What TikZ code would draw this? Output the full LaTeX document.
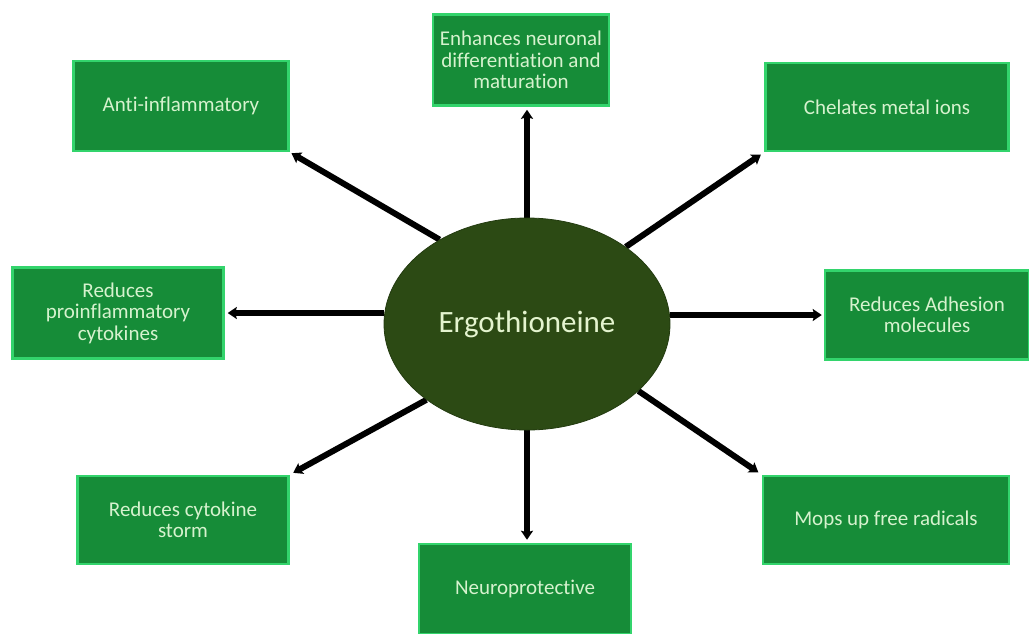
\documentclass[tikz,border=0pt]{standalone}
\usepackage{fontspec}
\setmainfont{Carlito}[Ligatures=NoCommon]
\usetikzlibrary{shapes.geometric,arrows.meta,backgrounds}
\definecolor{boxfill}{HTML}{168C38}
\definecolor{boxline}{HTML}{33D46C}
\definecolor{boxtext}{HTML}{D6F2CE}
\definecolor{ellfill}{HTML}{2C4A14}
\definecolor{elltext}{HTML}{E4F4CF}
\tikzset{
  effect/.style={draw=boxline, line width=2.5pt, fill=boxfill, text=boxtext,
    align=center, inner sep=0pt, font=\fontsize{21}{21.5}\selectfont},
  link/.style={line width=6pt, -{Stealth[length=9pt,width=12pt,inset=1.5pt]}, draw=black},
}
\begin{document}
\begin{tikzpicture}[x=1pt,y=-1pt]
\useasboundingbox (0,0) rectangle (1029,633);
% boxes
\node[effect, minimum width=215pt, minimum height=90pt] (A) at (181,106) {Anti-inflammatory};
\node[effect, minimum width=176pt, minimum height=91pt] (B) at (521,60) {Enhances neuronal\\differentiation and\\maturation};
\node[effect, minimum width=243pt, minimum height=88pt] (C) at (887,107) {Chelates metal ions};
\node[effect, minimum width=211pt, minimum height=91pt] (D) at (118,313) {Reduces\\proinflammatory\\cytokines};
\node[effect, minimum width=204pt, minimum height=89pt] (F) at (927,315) {Reduces Adhesion\\molecules};
\node[effect, minimum width=211pt, minimum height=88pt] (G) at (183,520) {Reduces cytokine\\storm};
\node[effect, minimum width=212pt, minimum height=90pt] (H) at (525,589) {Neuroprotective};
\node[effect, minimum width=246pt, minimum height=88pt] (M) at (886,520) {Mops up free radicals};
% ellipse
\node[ellipse, fill=ellfill, draw=ellfill!80!black, line width=0.8pt,
  minimum width=286pt, minimum height=212pt, inner sep=0pt,
  text=elltext, font=\fontsize{31}{38}\selectfont] (E) at (527,324) {Ergothioneine};
% connectors
\begin{scope}[on background layer]
\draw[link, shorten >=2pt] (E.136) -- (A.south east);
\draw[link, shorten >=3pt] (E.north) -- (E.north |- B.south);
\draw[link, shorten >=4pt] (E.38) -- (C.south west);
\draw[link, shorten >=3pt] (E.west |- D.east) -- (D.east);
\draw[link, shorten >=2pt] (E.east |- F.west) -- (F.west);
\draw[link, shorten >=4pt] (E.217) -- (G.north east);
\draw[link, shorten >=3pt] (E.south) -- (E.south |- H.north);
\draw[link, shorten >=4pt] (E.329) -- (M.north west);
\end{scope}
\end{tikzpicture}
\end{document}
